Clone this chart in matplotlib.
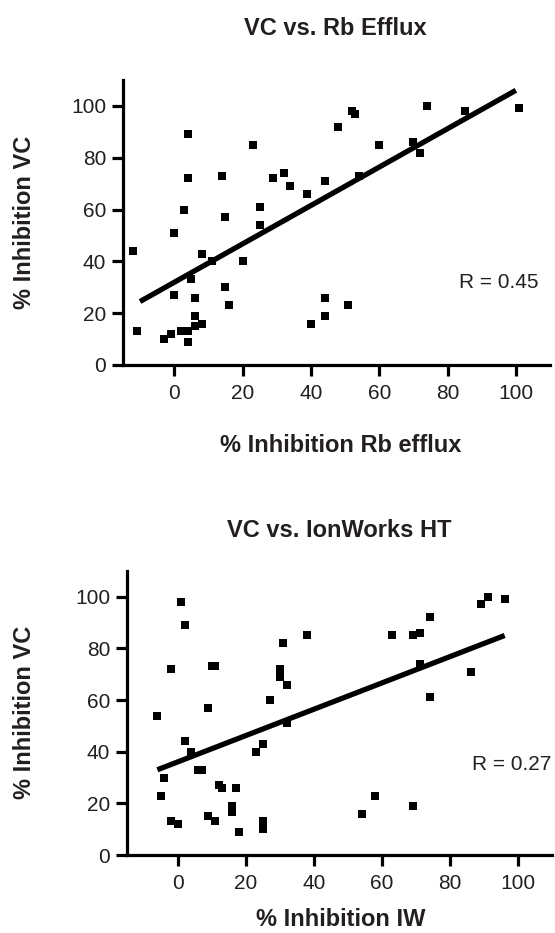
import numpy as np
import matplotlib
matplotlib.use("Agg")
import matplotlib.pyplot as plt

plt.rcParams["font.family"] = ["Liberation Sans", "DejaVu Sans"]

# VC vs. Rb efflux
rb_x = [4, 23, 4, 14, 29, 32, 34, 39, 3, 25, 15, 25, 0, -12, 8, 11, 20, 5, 15, 0,
        6, 16, 6, 6, 8, -11, 2, 4, -1, -3, 4, 40, 44, 48, 52, 53, 54, 60, 70, 72,
        74, 85, 101, 44, 44, 51]
rb_y = [89, 85, 72, 73, 72, 74, 69, 66, 60, 61, 57, 54, 51, 44, 43, 40, 40, 33, 30, 27,
        26, 23, 19, 15, 16, 13, 13, 13, 12, 10, 9, 16, 71, 92, 98, 97, 73, 85, 86, 82,
        100, 98, 99, 26, 19, 23]
rb_fit_x = [-10, 100]
rb_fit_y = [24.5, 106]
rb_r = "R = 0.45"

# VC vs. IonWorks HT
iw_x = [1, 2, -2, 10, 11, 38, 31, 30, 30, 32, 27, 9, -6, 32, 2, 4, 25, 23, 6, 7,
        -4, 12, 13, 17, -5, 16, 16, -2, 0, 9, 11, 18, 25, 25, 63, 69, 71, 74, 71, 86,
        74, 89, 91, 96, 58, 54, 69]
iw_y = [98, 89, 72, 73, 73, 85, 82, 72, 69, 66, 60, 57, 54, 51, 44, 40, 43, 40, 33, 33,
        30, 27, 26, 26, 23, 19, 16.5, 13, 12, 15, 13, 9, 13, 10, 85, 85, 86, 92, 74, 71,
        61, 97, 100, 99, 23, 16, 19]
iw_fit_x = [-6, 96]
iw_fit_y = [33, 85]
iw_r = "R = 0.27"

ticks = [0, 20, 40, 60, 80, 100]
txt = "#231f20"

fig = plt.figure(figsize=(5.55, 9.33), dpi=100)


def panel(rect, xs, ys, fx, fy, rtext, rpos, rha):
    ax = fig.add_axes(rect)
    ax.scatter(xs, ys, marker="s", s=36, color="black", linewidths=0, zorder=3, clip_on=False)
    ax.plot(fx, fy, color="black", lw=3.8, solid_capstyle="butt", zorder=2)
    ax.set_xlim(-15, 110)
    ax.set_ylim(0, 110)
    ax.set_xticks(ticks)
    ax.set_yticks(ticks)
    for s in ["top", "right"]:
        ax.spines[s].set_visible(False)
    for s in ["left", "bottom"]:
        ax.spines[s].set_linewidth(2.3)
    ax.tick_params(width=2.3, length=8, labelsize=15, colors="black", labelcolor=txt)
    ax.tick_params(axis="x", pad=6)
    ax.tick_params(axis="y", pad=4)
    ax.text(rpos[0], rpos[1], rtext, fontsize=15, color=txt, ha=rha, va="center")
    return ax


ax1 = panel([0.2216, 0.6088, 0.7694, 0.3055], rb_x, rb_y, rb_fit_x, rb_fit_y,
            rb_r, (106.5, 32), "right")
ax2 = panel([0.2283, 0.0836, 0.7669, 0.3045], iw_x, iw_y, iw_fit_x, iw_fit_y,
            iw_r, (86.5, 35), "left")

bold = dict(fontsize=17, fontweight="bold", color=txt)
fig.text(0.605, 0.962, "VC vs. Rb Efflux", ha="center", va="baseline", **bold)
fig.text(0.611, 0.424, "VC vs. IonWorks HT", ha="center", va="baseline", **bold)
fig.text(0.613, 0.5155, "% Inhibition Rb efflux", ha="center", va="baseline", **bold)
fig.text(0.613, 0.002, "% Inhibition IW", ha="center", va="bottom", **bold)
fig.text(0.045, 0.762, "% Inhibition VC", ha="center", va="center", rotation=90, **bold)
fig.text(0.045, 0.236, "% Inhibition VC", ha="center", va="center", rotation=90, **bold)

fig.savefig("out.png", dpi=100)
